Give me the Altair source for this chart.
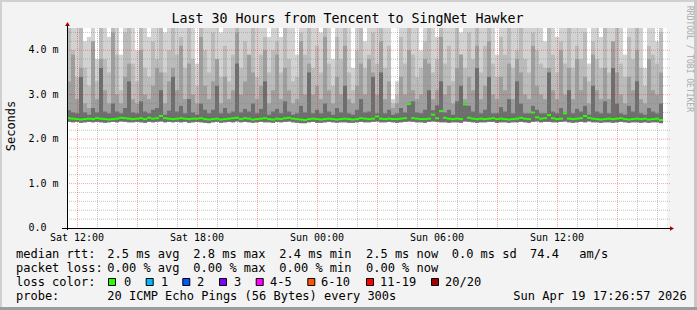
import altair as alt
import pandas as pd

MONO = "DejaVu Sans Mono"

# ---------------- data ----------------
BUCKET_H = 0.2  # one column = 12 minutes, start Sat 11:30 (hour 0)

max_ms = [
    4.6,4.6,4.6,4.6,4.2,4.3,4.6,3.8,4.6,4.6,4.3,4.6,4.6,3.9,4.6,4.6,4.6,4.0,4.6,4.6,4.3,4.6,4.6,4.6,4.4,4.6,
    4.6,4.6,4.6,4.6,4.6,4.6,3.7,4.6,4.6,4.6,4.6,4.6,4.4,4.6,4.6,4.6,4.6,4.6,4.6,4.6,4.6,4.6,4.6,4.6,4.3,4.6,
    4.6,4.3,4.6,4.6,4.6,3.9,4.6,4.6,4.6,4.6,4.6,4.4,4.6,4.6,3.8,4.6,4.6,4.6,4.6,3.6,4.6,4.6,4.2,4.6,4.6,4.6,
    4.6,4.6,4.6,2.9,3.3,4.6,4.6,4.6,4.6,4.6,4.0,4.6,4.6,4.6,4.3,4.6,4.6,4.6,4.6,4.6,4.4,4.6,4.6,4.6,4.6,4.6,
    4.6,4.6,4.6,3.9,4.6,4.6,4.6,4.6,4.6,4.6,4.6,4.6,4.6,4.6,4.6,4.2,4.6,4.6,4.3,4.6,4.6,4.6,4.6,4.6,4.6,4.6,
    3.7,4.6,4.6,4.3,4.6,4.6,4.6,4.6,4.6,3.9,4.6,4.6,4.6,4.6,3.6,4.6,4.6,4.2,4.6,
]
p80_ms = [
    4.6,4.0,3.4,4.6,3.6,3.2,4.1,3.3,4.6,3.8,3.5,4.6,3.9,3.1,4.4,4.6,3.7,3.3,4.6,3.6,3.4,4.2,3.8,4.6,3.5,4.0,
    4.6,3.9,4.3,3.6,4.6,3.8,3.2,4.6,4.0,3.5,4.4,3.7,3.4,4.1,3.3,3.9,4.6,3.6,4.2,3.8,4.6,3.4,3.9,4.3,3.5,4.0,
    4.2,3.5,4.6,3.8,3.3,3.4,4.4,3.9,4.6,3.6,4.1,3.5,4.6,3.7,3.2,4.3,3.8,4.6,3.5,3.1,4.0,4.6,3.6,3.9,4.4,3.7,
    4.6,3.6,4.1,2.8,3.0,4.3,3.7,4.6,3.9,3.4,3.6,4.2,4.6,3.5,3.8,4.6,3.7,4.1,3.3,4.6,3.9,3.6,4.4,3.8,4.6,3.5,
    4.1,4.6,3.7,3.4,4.3,3.9,4.6,3.6,4.0,4.6,3.8,3.5,4.4,4.0,3.7,3.6,4.6,3.9,3.5,4.2,3.7,4.6,3.6,4.1,3.8,4.4,
    3.3,4.2,3.8,3.6,4.6,3.5,4.0,4.6,3.7,3.4,4.3,3.8,4.6,3.6,3.2,4.1,3.9,3.7,4.4,
]
p65_ms = [
    3.3,3.9,2.9,3.6,2.8,2.7,4.2,2.9,3.8,3.1,2.8,4.4,3.0,2.8,3.4,3.7,2.9,2.8,4.0,3.0,2.9,3.2,3.6,3.5,2.8,3.3,
    3.6,3.1,4.1,2.9,3.7,3.0,2.8,4.3,3.2,2.9,3.3,3.8,2.8,3.4,2.9,3.1,4.4,3.0,3.3,3.9,3.5,2.9,3.2,4.0,2.8,3.1,
    3.9,2.9,3.6,3.1,2.8,2.9,4.2,3.0,3.7,3.0,3.2,2.9,4.3,3.1,2.8,3.4,3.0,4.1,2.9,2.8,3.2,3.7,3.0,3.8,3.5,3.0,
    4.2,2.9,3.3,2.7,2.8,3.4,3.0,4.0,3.1,2.9,3.0,3.8,3.7,2.9,3.1,4.3,3.0,3.2,2.8,3.6,3.9,2.9,3.4,3.1,4.1,2.9,
    3.2,4.2,3.0,2.9,3.4,3.1,3.7,2.9,3.8,3.5,3.0,2.9,4.1,3.2,3.0,2.9,3.6,3.1,2.9,4.0,3.0,3.6,2.9,3.8,3.1,3.4,
    2.8,3.9,3.1,2.9,3.6,2.9,4.2,3.5,3.0,2.8,3.4,3.1,4.0,2.9,2.8,3.8,3.1,3.0,3.5,
]
p55_ms = [
    2.65,2.60,2.58,3.40,2.60,2.55,2.70,2.60,3.60,2.62,2.58,2.80,2.62,2.58,2.70,3.30,2.60,2.58,2.85,2.62,2.58,2.66,2.70,3.10,2.55,2.64,
    3.40,2.62,2.75,2.58,2.90,2.60,2.55,2.80,2.66,2.58,2.66,3.20,2.58,2.70,2.58,2.62,3.70,2.60,2.68,2.62,2.80,2.58,2.68,3.30,2.55,2.62,
    2.68,2.58,2.85,2.62,2.55,2.58,2.75,2.60,3.50,2.58,2.66,2.58,2.80,2.62,2.55,2.70,2.60,3.20,2.58,2.55,2.66,2.90,2.60,2.62,3.40,2.58,
    3.50,2.58,2.66,2.55,2.58,2.70,2.60,2.82,2.85,2.60,2.58,2.66,3.10,2.65,2.76,3.30,2.60,2.66,2.55,2.85,3.20,2.80,2.75,2.62,3.60,2.58,
    2.66,3.40,2.58,2.58,2.72,2.62,2.90,2.58,3.30,2.80,2.58,2.58,2.75,2.66,2.58,2.58,3.50,2.62,2.58,2.70,2.60,3.10,2.58,2.68,2.62,2.75,
    2.55,3.20,2.62,2.58,2.85,2.58,3.60,2.80,2.58,2.55,2.75,2.62,3.30,2.58,2.55,2.70,2.62,2.58,2.80,
]
median_ms = [
    2.47,2.46,2.45,2.44,2.45,2.46,2.45,2.47,2.46,2.45,2.44,2.45,2.46,2.48,2.47,2.46,2.45,2.46,2.47,2.45,2.48,2.46,2.47,2.52,2.47,2.46,
    2.45,2.46,2.47,2.46,2.45,2.46,2.46,2.47,2.45,2.44,2.45,2.46,2.44,2.45,2.46,2.47,2.48,2.45,2.47,2.46,2.44,2.45,2.46,2.47,2.45,2.44,
    2.46,2.45,2.47,2.48,2.46,2.45,2.44,2.43,2.45,2.46,2.45,2.44,2.45,2.46,2.45,2.44,2.45,2.46,2.45,2.44,2.45,2.47,2.46,2.45,2.46,2.51,
    2.46,2.45,2.46,2.45,2.45,2.46,2.47,2.79,2.47,2.46,2.45,2.45,2.46,2.55,2.47,2.63,2.48,2.46,2.45,2.46,2.45,2.78,2.48,2.46,2.45,2.46,
    2.45,2.46,2.47,2.45,2.46,2.45,2.44,2.45,2.46,2.48,2.46,2.45,2.60,2.49,2.46,2.47,2.54,2.47,2.45,2.46,2.58,2.46,2.45,2.46,2.47,2.52,
    2.48,2.46,2.45,2.44,2.45,2.46,2.45,2.46,2.47,2.45,2.44,2.45,2.46,2.45,2.46,2.44,2.45,2.46,2.43,
]
min_ms = [
    2.39,2.38,2.39,2.37,2.38,2.39,2.38,2.39,2.38,2.37,2.38,2.39,2.38,2.40,2.39,2.38,2.38,2.39,2.38,2.37,2.39,2.38,2.39,2.40,2.38,2.39,
    2.38,2.39,2.38,2.39,2.37,2.38,2.39,2.38,2.37,2.36,2.38,2.39,2.37,2.38,2.39,2.38,2.40,2.38,2.39,2.38,2.37,2.38,2.39,2.38,2.38,2.37,
    2.39,2.38,2.39,2.40,2.38,2.37,2.36,2.36,2.38,2.39,2.37,2.37,2.38,2.39,2.38,2.37,2.38,2.38,2.37,2.37,2.38,2.39,2.38,2.38,2.39,2.40,
    2.38,2.38,2.39,2.38,2.37,2.38,2.39,2.40,2.39,2.38,2.38,2.37,2.39,2.40,2.39,2.38,2.38,2.37,2.38,2.38,2.37,2.40,2.39,2.38,2.37,2.38,
    2.38,2.39,2.39,2.37,2.38,2.38,2.37,2.38,2.38,2.39,2.38,2.37,2.39,2.40,2.38,2.39,2.39,2.38,2.38,2.39,2.40,2.38,2.37,2.38,2.39,2.38,
    2.40,2.38,2.38,2.37,2.38,2.38,2.37,2.38,2.39,2.38,2.37,2.38,2.38,2.37,2.38,2.37,2.38,2.38,2.36,
]

x_tick_hours = [0.5, 6.5, 12.5, 18.5, 24.5]
x_tick_labels = ["Sat 12:00", "Sat 18:00", "Sun 00:00", "Sun 06:00", "Sun 12:00"]
y_tick_values = [0, 1, 2, 3, 4]
y_tick_labels = ["0.0", "1.0 m", "2.0 m", "3.0 m", "4.0 m"]

title_text = "Last 30 Hours from Tencent to SingNet Hawker"
y_title = "Seconds"
watermark = "RRDTOOL / TOBI OETIKER"
row1 = ["median rtt:", "2.5 ms avg", "2.8 ms max", "2.4 ms min", "2.5 ms now", "0.0 ms sd", "74.4", "am/s"]
row2 = ["packet loss:", "0.00 % avg", "0.00 % max", "0.00 % min", "0.00 % now"]
loss_labels = ["0", "1", "2", "3", "4-5", "6-10", "11-19", "20/20"]
loss_colors = ["#26ff00", "#00b8ff", "#0059ff", "#7e00ff", "#ff00ff", "#ff5500", "#ff0000", "#a10000"]
row4 = ["probe:", "20 ICMP Echo Pings (56 Bytes) every 300s", "Sun Apr 19 17:26:57 2026"]

# ---------------- frames ----------------
n = len(median_ms)
df = pd.DataFrame({
    "t0": [i * BUCKET_H for i in range(n)],
    "t1": [(i + 1) * BUCKET_H for i in range(n)],
    "mx": max_ms, "p80": p80_ms, "p65": p65_ms, "p55": p55_ms,
    "med": median_ms, "mn": min_ms,
})

xs = alt.Scale(domain=[0, 30], nice=False, zero=False)
ys = alt.Scale(domain=[0, 4.5], nice=False, zero=True)

base = alt.Chart(df)

def band(col, color):
    return base.mark_bar(color=color, clip=True, strokeWidth=0).encode(
        x=alt.X("t0:Q", scale=xs, axis=None),
        x2="t1:Q",
        y=alt.Y(f"{col}:Q", scale=ys, axis=None),
        y2="mn:Q",
    )

smoke = [
    band("mx", "#d2d2d2"),
    band("p80", "#bbbbbb"),
    band("p65", "#9e9e9e"),
    band("p55", "#6e6e6e"),
]

minor_x = [h + 0.5 for h in range(30) if h % 3 != 0]
major_x = [h + 0.5 for h in range(30) if h % 3 == 0]
minor_y = [round(k * 0.2, 1) for k in range(1, 23) if k % 5 != 0]
major_y = [1, 2, 3, 4]

def vgrid(vals, color):
    return alt.Chart(pd.DataFrame({"h": vals})).mark_rule(color=color, strokeDash=[1, 1], strokeWidth=1, xOffset=0.5).encode(
        x=alt.X("h:Q", scale=xs, axis=None))

def hgrid(vals, color):
    return alt.Chart(pd.DataFrame({"v": vals})).mark_rule(color=color, strokeDash=[1, 1], strokeWidth=1).encode(
        y=alt.Y("v:Q", scale=ys, axis=None), x=alt.value(0), x2=alt.value(603))

grids = [
    vgrid(minor_x, "rgba(128,128,128,0.45)"),
    hgrid(minor_y, "rgba(128,128,128,0.45)"),
    vgrid(major_x, "rgba(255,0,0,0.35)"),
    hgrid(major_y, "rgba(255,0,0,0.35)"),
]

# median: one short horizontal segment per interval
median_line = base.mark_rule(color="#26ff00", strokeWidth=2, clip=True).encode(
    x=alt.X("t0:Q", scale=xs, axis=None), x2="t1:Q", y=alt.Y("med:Q", scale=ys, axis=None))

# tick labels drawn through the scales
x_lbls = alt.Chart(pd.DataFrame({"h": x_tick_hours, "s": x_tick_labels})).mark_text(
    font=MONO, fontSize=10, color="black", align="center", baseline="middle"
).encode(x=alt.X("h:Q", scale=xs, axis=None), y=alt.value(209.5), text="s:N")
y_lbls = alt.Chart(pd.DataFrame({"v": y_tick_values, "s": y_tick_labels})).mark_text(
    font=MONO, fontSize=10, color="black", align="left", baseline="middle"
).encode(y=alt.Y("v:Q", scale=ys, axis=None), x=alt.value(-38.5), text="s:N")

one = pd.DataFrame({"k": [0]})
axes_lines = [
    alt.Chart(one).mark_rule(color="black", strokeWidth=1).encode(x=alt.value(-5), x2=alt.value(603), y=alt.value(200.5)),
    alt.Chart(one).mark_rule(color="black", strokeWidth=1).encode(x=alt.value(0.5), y=alt.value(-3), y2=alt.value(202)),
    alt.Chart(one).mark_point(shape="triangle-up", filled=True, color="#a00000", size=22, opacity=1).encode(x=alt.value(0.5), y=alt.value(-4)),
    alt.Chart(one).mark_point(shape="triangle-right", filled=True, color="#a00000", size=22, opacity=1).encode(x=alt.value(605), y=alt.value(200.5)),
]

def txt(s, x, y, size=12, align="left", angle=0, color="black"):
    return alt.Chart(pd.DataFrame({"s": [s]})).mark_text(
        align=align, baseline="middle", font=MONO, fontSize=size, color=color, angle=angle
    ).encode(x=alt.value(x), y=alt.value(y), text="s:N")

OX, OY = 67, 28  # plot origin in page pixels
texts = [
    txt(title_text, 347.5 - OX, 19 - OY, size=13.3, align="center"),
    txt(y_title, 11 - OX, 126 - OY, size=12, align="center", angle=270),
    txt(watermark, 688.5 - OX, 59 - OY, size=8, align="center", angle=90, color="#a8a8a8"),
]
row1_x = [16, 107.3, 193.3, 279.3, 366, 451.7, 530, 579.3]
for s, x in zip(row1, row1_x):
    texts.append(txt(s, x - OX, 254 - OY))
row2_x = [16, 107.3, 193.3, 279.3, 366]
for s, x in zip(row2, row2_x):
    texts.append(txt(s, x - OX, 268 - OY))
texts.append(txt("loss color:", 16 - OX, 282 - OY))
sq_x = [108, 145.7, 182.3, 219, 255.7, 307.3, 366, 431]
lab_x = [124, 161, 197, 234, 270, 321, 380, 445]
squares = []
for lab, col, sx, lx in zip(loss_labels, loss_colors, sq_x, lab_x):
    squares.append(alt.Chart(one).mark_rect(color=col, stroke="black", strokeWidth=1).encode(
        x=alt.value(sx - OX + 0.5), x2=alt.value(sx - OX + 7.5), y=alt.value(278.5 - OY), y2=alt.value(285.5 - OY)))
    texts.append(txt(lab, lx - OX, 282 - OY))
row4_x = [16, 107.3, 513.3]
for s, x in zip(row4, row4_x):
    texts.append(txt(s, x - OX, 296 - OY))

W, H = 697, 310
frame = [
    alt.Chart(one).mark_rect(color="#d0d0d0").encode(x=alt.value(-OX), x2=alt.value(W - OX), y=alt.value(-OY), y2=alt.value(-OY + 2)),
    alt.Chart(one).mark_rect(color="#d0d0d0").encode(x=alt.value(-OX), x2=alt.value(-OX + 2), y=alt.value(-OY), y2=alt.value(H - OY)),
    alt.Chart(one).mark_rect(color="#c8c8c8").encode(x=alt.value(W - OX - 3), x2=alt.value(W - OX), y=alt.value(-OY), y2=alt.value(H - OY)),
    alt.Chart(one).mark_rect(color="#9c9c9c").encode(x=alt.value(-OX), x2=alt.value(W - OX), y=alt.value(H - OY - 3), y2=alt.value(H - OY)),
]

chart = alt.layer(*smoke, *grids, median_line, x_lbls, y_lbls, *axes_lines, *frame, *squares, *texts).properties(
    width=600, height=200,
    autosize=alt.AutoSizeParams(type="none"),
    padding={"left": OX, "top": OY, "right": W - OX - 600, "bottom": H - OY - 200},
    background="#f3f3f3",
).configure_view(fill="white", strokeWidth=0)

chart.save("out.html", embed_options={"renderer": "svg", "actions": False})
